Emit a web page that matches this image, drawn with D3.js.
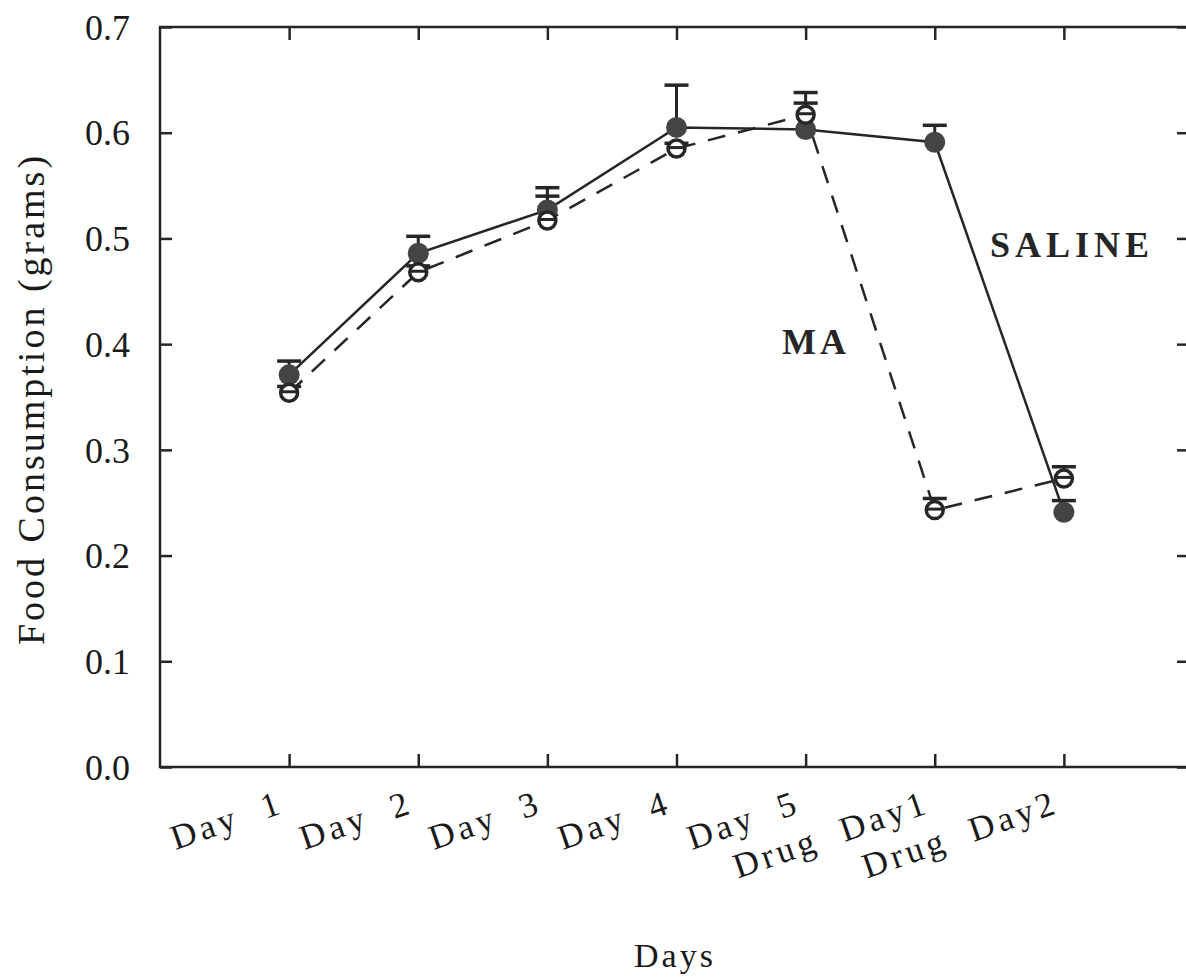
<!DOCTYPE html>
<html><head><meta charset="utf-8">
<script src="https://cdn.jsdelivr.net/npm/d3@7"></script>
<style>
html,body{margin:0;padding:0;background:#fff;}
svg{display:block;}
svg text{font-family:"Liberation Serif","DejaVu Serif",serif;}
</style></head>
<body><svg id="c" width="1186" height="979"></svg>
<script>
const days = ["Day 1","Day 2","Day 3","Day 4","Day 5","Drug Day1","Drug Day2"];
const salineMean = [0.371,0.486,0.527,0.605,0.603,0.591,0.241];
const salineErr  = [0.384,0.502,0.548,0.645,0.638,0.607,0.252];
const maMean     = [0.354,0.468,0.517,0.585,0.617,0.243,0.273];
const maErr      = [0.360,0.474,0.540,0.590,0.628,0.254,0.284];
const yTicks = [0.0,0.1,0.2,0.3,0.4,0.5,0.6,0.7];

const svg = d3.select("#c");
const L=160, T=27, R=1193, B=767;
const x = d3.scaleLinear().domain([0,8]).range([L,R]);
const y = d3.scaleLinear().domain([0,0.7]).range([B,T]);
const ink="#262626";
const FONT = '"Liberation Serif","DejaVu Serif",serif';

// frame
svg.append("rect").attr("x",L).attr("y",T).attr("width",R-L).attr("height",B-T)
  .attr("fill","none").attr("stroke",ink).attr("stroke-width",2.5);

const xi = d3.range(1,8);
// left axis
const gl = svg.append("g").attr("transform",`translate(${L},0)`)
  .call(d3.axisLeft(y).tickValues(yTicks).tickFormat(d3.format(".1f")).tickSizeInner(-12).tickSizeOuter(0).tickPadding(30));
gl.attr("font-family",FONT).attr("font-size",36);
gl.select(".domain").remove();
gl.selectAll("line").attr("stroke",ink).attr("stroke-width",2.5);
gl.selectAll("text").attr("fill","#1a1a1a").attr("dy","0.34em");
// right axis
const gr = svg.append("g").attr("transform",`translate(${R},0)`)
  .call(d3.axisRight(y).tickValues(yTicks).tickFormat("").tickSizeInner(-16).tickSizeOuter(0));
gr.select(".domain").remove();
gr.selectAll("line").attr("stroke",ink).attr("stroke-width",2.5);
// top axis
const gt = svg.append("g").attr("transform",`translate(0,${T})`)
  .call(d3.axisTop(x).tickValues(xi).tickFormat("").tickSizeInner(-13).tickSizeOuter(0));
gt.select(".domain").remove();
gt.selectAll("line").attr("stroke",ink).attr("stroke-width",2.5);
// bottom axis
const gb = svg.append("g").attr("transform",`translate(0,${B})`)
  .call(d3.axisBottom(x).tickValues(xi).tickFormat((d,i)=>days[i]).tickSizeInner(-13).tickSizeOuter(0));
gb.attr("font-family",FONT).attr("font-size",35);
gb.select(".domain").remove();
gb.selectAll("line").attr("stroke",ink).attr("stroke-width",2.5);
gb.selectAll("text").attr("fill","#1a1a1a")
  .attr("text-anchor","end").attr("dy",null).attr("y",null)
  .attr("transform","translate(-4,45) rotate(-19)")
  .style("letter-spacing","4px").style("word-spacing","12px");

// axis titles
svg.append("text").attr("transform",`translate(44,${(T+B)/2+2}) rotate(-90)`)
  .attr("text-anchor","middle").attr("font-size",38).attr("fill","#1a1a1a")
  .style("letter-spacing","3px").text("Food Consumption (grams)");
svg.append("text").attr("x",675).attr("y",967).attr("text-anchor","middle")
  .attr("font-size",34).attr("fill","#1a1a1a").style("letter-spacing","3px").text("Days");

// series lines
const lineGen = d3.line().x((d,i)=>x(i+1)).y(d=>y(d));
svg.append("path").datum(maMean).attr("d",lineGen).attr("fill","none")
  .attr("stroke",ink).attr("stroke-width",2.5).attr("stroke-dasharray","18,13");
svg.append("path").datum(salineMean).attr("d",lineGen).attr("fill","none")
  .attr("stroke",ink).attr("stroke-width",2.5);

// error bars
function errBars(mean, err){
  const g = svg.append("g");
  mean.forEach((m,i)=>{
    g.append("line").attr("x1",x(i+1)).attr("x2",x(i+1)).attr("y1",y(m)).attr("y2",y(err[i]))
      .attr("stroke",ink).attr("stroke-width",3);
    g.append("line").attr("x1",x(i+1)-12).attr("x2",x(i+1)+12).attr("y1",y(err[i])).attr("y2",y(err[i]))
      .attr("stroke",ink).attr("stroke-width",3.5);
  });
}
errBars(maMean, maErr);
errBars(salineMean, salineErr);

// markers
svg.append("g").selectAll("circle").data(salineMean).join("circle")
  .attr("cx",(d,i)=>x(i+1)).attr("cy",d=>y(d)).attr("r",10.5).attr("fill","#444");
const mg = svg.append("g").selectAll("g").data(maMean).join("g")
  .attr("transform",(d,i)=>`translate(${x(i+1)},${y(d)})`);
mg.append("circle").attr("r",8.5).attr("fill","#fff").attr("stroke",ink).attr("stroke-width",3.5);
mg.append("line").attr("x1",-8).attr("x2",8).attr("y1",-1).attr("y2",-1).attr("stroke",ink).attr("stroke-width",3);

// labels
svg.append("text").attr("x",990).attr("y",257).attr("font-size",36).attr("font-weight","bold")
  .attr("fill","#262626").style("letter-spacing","5px").text("SALINE");
svg.append("text").attr("x",782).attr("y",354).attr("font-size",36).attr("font-weight","bold")
  .attr("fill","#262626").style("letter-spacing","4px").text("MA");
</script></body></html>
